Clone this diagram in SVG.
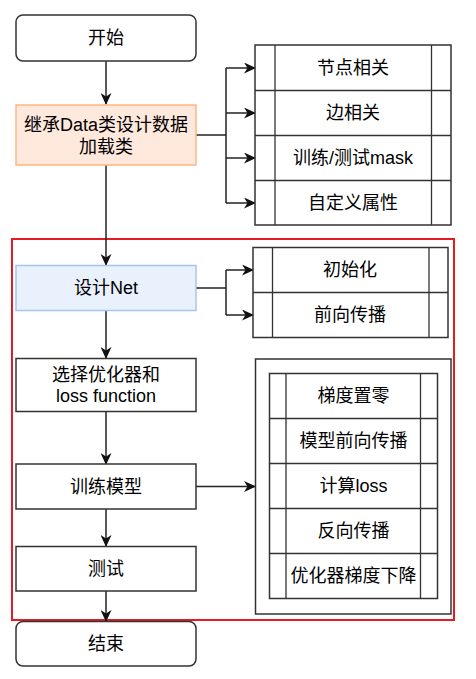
<svg xmlns="http://www.w3.org/2000/svg" width="476" height="679" viewBox="0 0 476 679">
<defs>
<style>
text{font-family:"Liberation Sans","Noto Sans CJK SC",sans-serif;font-size:18px;fill:#000;text-anchor:middle;dominant-baseline:central}
.n{fill:#fff;stroke:#333;stroke-width:1.5}
.c{fill:none;stroke:#222;stroke-width:1.5}
.l{fill:none;stroke:#333;stroke-width:1.3}
</style>
<marker id="ah" markerUnits="userSpaceOnUse" markerWidth="12" markerHeight="11" viewBox="0 0 12 11" refX="11" refY="5.5" orient="auto">
<path d="M0,0 L12,5.5 L0,11 L3.5,5.5 Z" fill="#111"/>
</marker>
</defs>
<rect x="12" y="239" width="442" height="381" fill="none" stroke="#e31b23" stroke-width="2"/>
<g id="connectors">
<path class="c" d="M106,61 V104" marker-end="url(#ah)"/>
<path class="c" d="M106,165 V265" marker-end="url(#ah)"/>
<path class="c" d="M106,310 V358" marker-end="url(#ah)"/>
<path class="c" d="M106,411 V464" marker-end="url(#ah)"/>
<path class="c" d="M106,509 V546" marker-end="url(#ah)"/>
<path class="c" d="M106,591 V621" marker-end="url(#ah)"/>
<path class="c" d="M196,135 H226"/>
<path class="c" d="M226,68 V203"/>
<path class="c" d="M226,68 H255" marker-end="url(#ah)"/>
<path class="c" d="M226,113 H255" marker-end="url(#ah)"/>
<path class="c" d="M226,158 H255" marker-end="url(#ah)"/>
<path class="c" d="M226,203 H255" marker-end="url(#ah)"/>
<path class="c" d="M196,288 H226"/>
<path class="c" d="M226,270 V315"/>
<path class="c" d="M226,270 H253" marker-end="url(#ah)"/>
<path class="c" d="M226,315 H253" marker-end="url(#ah)"/>
<path class="c" d="M196,486.5 H255" marker-end="url(#ah)"/>
</g>
<g id="start"><rect class="n" x="16" y="15" width="180" height="46" rx="7"/><text x="106" y="38">开始</text></g>
<g id="data"><rect x="16" y="105" width="180" height="60" fill="#ffe8dc" stroke="#ffb682" stroke-width="1.5"/><text x="106" y="125">继承Data类设计数据</text><text x="106" y="147">加载类</text></g>
<g id="list1">
<rect class="n" x="255" y="45" width="196" height="180"/>
<path class="l" d="M255,90.5 H451 M255,135.5 H451 M255,180.5 H451 M275,45 V225 M431.5,45 V225"/>
<text x="353" y="68">节点相关</text>
<text x="353" y="113">边相关</text>
<text x="353" y="158">训练/测试mask</text>
<text x="353" y="203">自定义属性</text>
</g>
<g id="net"><rect x="16" y="265.5" width="180" height="45" fill="#e9f1fd" stroke="#a6c4f0" stroke-width="1.5"/><text x="106" y="288">设计Net</text></g>
<g id="list2">
<rect class="n" x="253" y="247.5" width="195" height="90"/>
<path class="l" d="M253,292.5 H448 M272.5,247.5 V337.5 M429,247.5 V337.5"/>
<text x="350" y="270">初始化</text>
<text x="350" y="315">前向传播</text>
</g>
<g id="opt"><rect class="n" x="16" y="358.5" width="180" height="53"/><text x="106" y="375">选择优化器和</text><text x="106" y="396">loss function</text></g>
<g id="train"><rect class="n" x="16" y="464" width="180" height="45"/><text x="106" y="486.5">训练模型</text></g>
<g id="test"><rect class="n" x="16" y="546.5" width="180" height="44.5"/><text x="106" y="569">测试</text></g>
<g id="end"><rect class="n" x="16" y="621.5" width="180" height="44.5" rx="7"/><text x="106" y="644">结束</text></g>
<g id="list3">
<rect class="n" x="255.5" y="359" width="195.5" height="255"/>
<rect class="n" x="269.5" y="373.5" width="168" height="225"/>
<path class="l" d="M269.5,418.5 H437.5 M269.5,463.5 H437.5 M269.5,508.5 H437.5 M269.5,553.5 H437.5 M286,373.5 V598.5 M420.5,373.5 V598.5"/>
<text x="353.5" y="396">梯度置零</text>
<text x="353.5" y="441">模型前向传播</text>
<text x="353.5" y="486">计算loss</text>
<text x="353.5" y="531">反向传播</text>
<text x="353.5" y="576">优化器梯度下降</text>
</g>
</svg>
